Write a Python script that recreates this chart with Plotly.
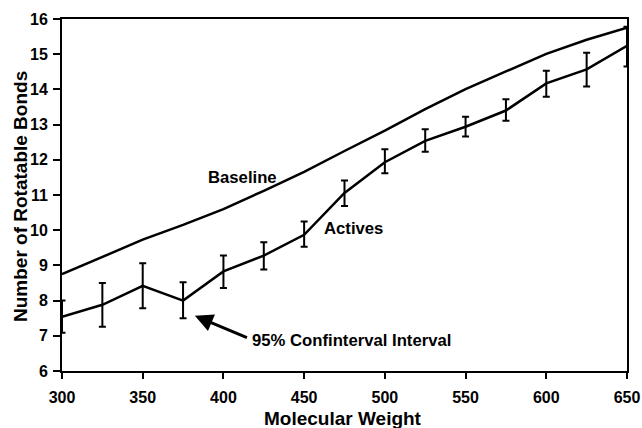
import plotly.graph_objects as go

mw = [300, 325, 350, 375, 400, 425, 450, 475, 500, 525, 550, 575, 600, 625, 650]
baseline = [8.75, 9.25, 9.73, 10.15, 10.6, 11.12, 11.66, 12.25, 12.83, 13.44, 14.01, 14.51, 15.01, 15.41, 15.75]
actives = [7.54, 7.88, 8.42, 8.0, 8.83, 9.28, 9.87, 11.06, 11.93, 12.54, 12.94, 13.4, 14.17, 14.57, 15.24]
ci_upper = [8.0, 8.5, 9.06, 8.52, 9.28, 9.66, 10.25, 11.41, 12.3, 12.87, 13.22, 13.72, 14.53, 15.04, 15.78]
ci_lower = [7.09, 7.26, 7.78, 7.5, 8.36, 8.88, 9.53, 10.69, 11.62, 12.23, 12.66, 13.11, 13.79, 14.08, 14.65]

x_ticks = [300, 350, 400, 450, 500, 550, 600, 650]
y_ticks = [6, 7, 8, 9, 10, 11, 12, 13, 14, 15, 16]

FONT = "Liberation Sans, Arial, sans-serif"

err_plus = [u - a for u, a in zip(ci_upper, actives)]
err_minus = [a - l for a, l in zip(actives, ci_lower)]

fig = go.Figure()
fig.add_trace(go.Scatter(
    x=mw, y=baseline, mode="lines",
    line=dict(color="black", width=2.5), showlegend=False,
))
fig.add_trace(go.Scatter(
    x=mw, y=actives, mode="lines",
    line=dict(color="black", width=2.5), showlegend=False,
    error_y=dict(type="data", symmetric=False, array=err_plus, arrayminus=err_minus,
                 color="black", thickness=2, width=3.5),
))

ann_font = dict(family=FONT, size=16.7, color="black")
fig.add_annotation(x=412, y=11.51, text="<b>Baseline</b>", showarrow=False, font=ann_font)
fig.add_annotation(x=480.5, y=10.06, text="<b>Actives</b>", showarrow=False, font=ann_font)
fig.add_annotation(x=416.5, y=6.88, text="<b>95% Confinterval Interval</b>", showarrow=False,
                   font=ann_font, xanchor="left")
fig.add_annotation(x=382.3, y=7.57, ax=415.5, ay=6.93, axref="x", ayref="y", text="",
                   showarrow=True, arrowhead=2, arrowsize=1.2, arrowwidth=3, arrowcolor="black",
                   standoff=0, startstandoff=0)

# axis titles
title_font = dict(family=FONT, size=19, color="black")
fig.add_annotation(xref="paper", yref="paper", x=0.5, y=0, xshift=-2, yshift=-47,
                   xanchor="center", yanchor="middle", showarrow=False,
                   text="<b>Molecular Weight</b>", font=title_font)
fig.add_annotation(xref="paper", yref="paper", x=0, y=0.5, xshift=-42, yshift=-2,
                   xanchor="center", yanchor="middle", showarrow=False, textangle=-90,
                   text="<b>Number of Rotatable Bonds</b>", font=title_font)

fig.update_layout(
    width=642, height=428,
    margin=dict(l=62, r=15, t=19, b=57),
    paper_bgcolor="white", plot_bgcolor="white",
    font=dict(family=FONT, color="black"),
    xaxis=dict(
        range=[300, 650], tickmode="array", tickvals=x_ticks,
        ticktext=[f"<b>{v}</b>" for v in x_ticks], automargin=False,
        showgrid=False, zeroline=False, showline=True, linecolor="black", linewidth=2,
        mirror=True, ticks="outside", ticklen=6, tickwidth=2, tickcolor="black",
        ticklabelstandoff=5,
        tickfont=dict(family=FONT, size=16, color="black"),
    ),
    yaxis=dict(
        range=[6, 16], tickmode="array", tickvals=y_ticks,
        ticktext=[f"<b>{v}</b>" for v in y_ticks], automargin=False,
        showgrid=False, zeroline=False, showline=True, linecolor="black", linewidth=2,
        mirror=True, ticks="outside", ticklen=7, tickwidth=2, tickcolor="black",
        ticklabelstandoff=2,
        tickfont=dict(family=FONT, size=16, color="black"),
    ),
)

fig.write_html("out.html", config={"displayModeBar": False},
               post_script="document.body.style.margin='0';document.body.style.overflow='hidden';")
